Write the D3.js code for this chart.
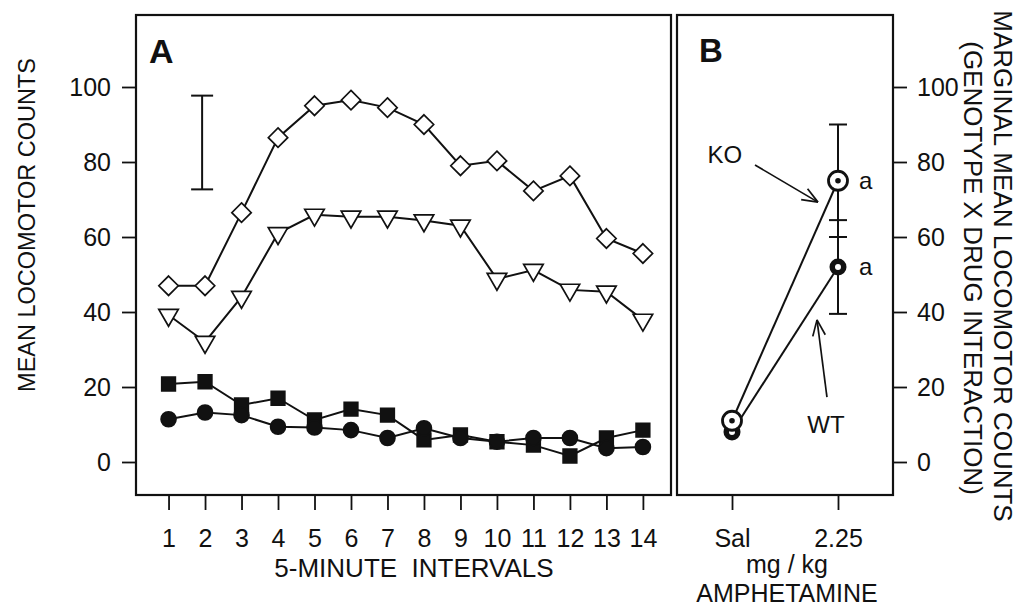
<!DOCTYPE html>
<html>
<head>
	<meta charset="utf-8" />
	<title>Locomotor counts</title>
	<script type="text/javascript" src="https://cdn.jsdelivr.net/npm/d3@7/dist/d3.min.js" charset="utf-8"></script>
	<style>
		body { margin: 0; background: #fff; }
		svg text { font-family: "Liberation Sans", Arial, sans-serif; fill: #111; }
	</style>
</head>
<body>

<div id="chart"><svg></svg></div>

<script type="text/javascript">
/* panel A data */
var intervals = [1, 2, 3, 4, 5, 6, 7, 8, 9, 10, 11, 12, 13, 14];
var diamonds  = [47, 47, 66.5, 86.5, 95, 96.5, 94.5, 90, 79, 80.3, 72.3, 76.3, 59.6, 55.6];
var triangles = [39.2, 32, 44, 61, 65.9, 65.4, 65.4, 64.4, 63, 48.8, 51.2, 45.9, 45.4, 37.9];
var squares   = [20.8, 21.4, 15.2, 17, 11.2, 14.1, 12.5, 5.9, 7.2, 5.4, 4.5, 1.6, 6.4, 8.5];
var circles   = [11.4, 13.2, 12.5, 9.4, 9.2, 8.5, 6.4, 9, 6.4, 5.4, 6.4, 6.4, 3.7, 4];
var errBarA   = { x: 1.92, lo: 72.7, hi: 97.7 };

/* panel B data */
var doses   = ["Sal", "2.25"];
var koMeans = [11, 75];
var koErr   = [0, 15];
var wtMeans = [8, 52];
var wtErr   = [0, 12.5];

var yTicks = [0, 20, 40, 60, 80, 100];

var W = 1019, H = 609;
var FS = 25;
var frameA = { left: 136, right: 671, top: 15, bottom: 495 },
    frameB = { left: 677, right: 893, top: 15, bottom: 495 };

var svg = d3.select("#chart > svg")
	.attr("width", W)
	.attr("height", H);

var y = d3.scaleLinear().domain([-8.8, 119.2]).range([frameA.bottom, frameA.top]);
var xA = d3.scaleLinear().domain([0.108, 14.77]).range([frameA.left, frameA.right]);
var xB = d3.scalePoint().domain(doses).range([frameB.left, frameB.right]).padding(0.519);

// frames
[frameA, frameB].forEach(function(f) {
	svg.append("rect")
		.attr("x", f.left).attr("y", f.top)
		.attr("width", f.right - f.left).attr("height", f.bottom - f.top)
		.attr("fill", "none").attr("stroke", "#111").attr("stroke-width", 2.2);
});

function styleAxis(g) {
	g.select(".domain").remove();
	g.selectAll(".tick line").attr("stroke", "#111").attr("stroke-width", 1.8);
	g.selectAll(".tick text").attr("font-size", FS).attr("fill", "#111")
		.style("font-family", "'Liberation Sans', Arial, sans-serif");
}

/* ---- panel A ---- */
svg.append("g")
	.attr("transform", "translate(" + frameA.left + ",0)")
	.call(d3.axisLeft(y).tickValues(yTicks).tickSize(14).tickPadding(11))
	.call(styleAxis);

svg.append("g")
	.attr("transform", "translate(0," + frameA.bottom + ")")
	.call(d3.axisBottom(xA).tickValues(intervals).tickSize(15).tickPadding(19))
	.call(styleAxis);

var line = d3.line()
	.x(function(d, i) { return xA(intervals[i]); })
	.y(function(d) { return y(d); });

var plotA = svg.append("g");

[diamonds, triangles, squares, circles].forEach(function(s) {
	plotA.append("path").datum(s)
		.attr("d", line)
		.attr("fill", "none").attr("stroke", "#111").attr("stroke-width", 2);
});

function drawMarkers(series, shape, size, fill, rot) {
	var sym = d3.symbol().type(shape).size(size);
	plotA.selectAll(null).data(series).enter().append("path")
		.attr("d", sym)
		.attr("transform", function(d, i) {
			return "translate(" + xA(intervals[i]) + "," + y(d) + ") rotate(" + rot + ")";
		})
		.attr("fill", fill).attr("stroke", "#111").attr("stroke-width", 1.7);
}
drawMarkers(squares, d3.symbolSquare, 185, "#111", 0);
drawMarkers(circles, d3.symbolCircle, 175, "#111", 0);
drawMarkers(triangles, d3.symbolTriangle, 165, "#fff", 180);
drawMarkers(diamonds, d3.symbolDiamond2, 240, "#fff", 0);

// error bar
var eb = plotA.append("g").attr("stroke", "#111").attr("stroke-width", 2);
eb.append("line").attr("x1", xA(errBarA.x)).attr("x2", xA(errBarA.x))
	.attr("y1", y(errBarA.hi)).attr("y2", y(errBarA.lo));
[errBarA.hi, errBarA.lo].forEach(function(v) {
	eb.append("line").attr("x1", xA(errBarA.x) - 11).attr("x2", xA(errBarA.x) + 11)
		.attr("y1", y(v)).attr("y2", y(v));
});

svg.append("text").attr("x", 149).attr("y", 63)
	.attr("font-size", 34).attr("font-weight", "bold").text("A");

svg.append("text")
	.attr("transform", "translate(35,225) rotate(-90)")
	.attr("text-anchor", "middle").attr("font-size", 23.5)
	.text("MEAN LOCOMOTOR COUNTS");

svg.append("text").attr("x", 414).attr("y", 577)
	.attr("text-anchor", "middle").attr("font-size", 26)
	.attr("xml:space", "preserve")
	.text("5-MINUTE  INTERVALS");

/* ---- panel B ---- */
svg.append("g")
	.attr("transform", "translate(" + frameB.right + ",0)")
	.call(d3.axisRight(y).tickValues(yTicks).tickSize(14).tickPadding(10))
	.call(styleAxis);

svg.append("g")
	.attr("transform", "translate(0," + frameB.bottom + ")")
	.call(d3.axisBottom(xB).tickSize(15).tickPadding(19))
	.call(styleAxis);

var plotB = svg.append("g");

var lineB = d3.line()
	.x(function(d, i) { return xB(doses[i]); })
	.y(function(d) { return y(d); });

[wtMeans, koMeans].forEach(function(s) {
	plotB.append("path").datum(s).attr("d", lineB)
		.attr("fill", "none").attr("stroke", "#111").attr("stroke-width", 2);
});

// error bars
[[koMeans, koErr], [wtMeans, wtErr]].forEach(function(p) {
	p[0].forEach(function(m, i) {
		if (!p[1][i]) return;
		var cx = xB(doses[i]);
		var g = plotB.append("g").attr("stroke", "#111").attr("stroke-width", 2);
		g.append("line").attr("x1", cx).attr("x2", cx).attr("y1", y(m + p[1][i])).attr("y2", y(m - p[1][i]));
		[m + p[1][i], m - p[1][i]].forEach(function(v) {
			g.append("line").attr("x1", cx - 9).attr("x2", cx + 9).attr("y1", y(v)).attr("y2", y(v));
		});
	});
});

// WT markers: thick ring
wtMeans.forEach(function(m, i) {
	var cx = xB(doses[i]), cy = y(m);
	plotB.append("circle").attr("cx", cx).attr("cy", cy).attr("r", 8.5)
		.attr("fill", "#111");
	plotB.append("circle").attr("cx", cx).attr("cy", cy).attr("r", 3)
		.attr("fill", "#fff");
});
// KO markers: open circle with centre dot
koMeans.forEach(function(m, i) {
	var cx = xB(doses[i]), cy = y(m);
	plotB.append("circle").attr("cx", cx).attr("cy", cy).attr("r", 9.5)
		.attr("fill", "#fff").attr("stroke", "#111").attr("stroke-width", 2.8);
	plotB.append("circle").attr("cx", cx).attr("cy", cy).attr("r", 2.8)
		.attr("fill", "#111");
});

// "a" letters
[koMeans[1], wtMeans[1]].forEach(function(m) {
	plotB.append("text").attr("x", xB(doses[1]) + 21).attr("y", y(m))
		.attr("dy", "0.35em").attr("font-size", 24).text("a");
});

// annotations with open arrows (index-space x for panel B)
var xi = d3.scaleLinear().domain([0, 1]).range([xB(doses[0]), xB(doses[1])]);

function arrow(x1, v1, x2, v2) {
	var ax = xi(x1), ay = y(v1), bx = xi(x2), by = y(v2);
	var ang = Math.atan2(by - ay, bx - ax), len = 17, spread = 0.38;
	var g = plotB.append("g").attr("stroke", "#111").attr("stroke-width", 1.7).attr("fill", "none");
	g.append("line").attr("x1", ax).attr("y1", ay).attr("x2", bx).attr("y2", by);
	[-spread, spread].forEach(function(s) {
		g.append("line").attr("x1", bx).attr("y1", by)
			.attr("x2", bx - len * Math.cos(ang + s)).attr("y2", by - len * Math.sin(ang + s));
	});
}
arrow(0.217, 79.2, 0.811, 69.3);
arrow(0.896, 17.3, 0.802, 37.9);

plotB.append("text").attr("x", xi(-0.068)).attr("y", y(81.9)).attr("dy", "0.35em")
	.attr("text-anchor", "middle").attr("font-size", 24).text("KO");
plotB.append("text").attr("x", xi(0.887)).attr("y", y(10.1)).attr("dy", "0.35em")
	.attr("text-anchor", "middle").attr("font-size", 24).text("WT");

svg.append("text").attr("x", 699).attr("y", 62)
	.attr("font-size", 33).attr("font-weight", "bold").text("B");

svg.append("text").attr("x", 787).attr("y", 573)
	.attr("text-anchor", "middle").attr("font-size", 25).text("mg / kg");
svg.append("text").attr("x", 787).attr("y", 602)
	.attr("text-anchor", "middle").attr("font-size", 25).text("AMPHETAMINE");

svg.append("text")
	.attr("transform", "translate(994,266) rotate(90)")
	.attr("text-anchor", "middle").attr("font-size", 26)
	.text("MARGINAL MEAN LOCOMOTOR COUNTS");
svg.append("text")
	.attr("transform", "translate(964,268) rotate(90)")
	.attr("text-anchor", "middle").attr("font-size", 26)
	.text("(GENOTYPE X DRUG INTERACTION)");
</script>
</body>
</html>
